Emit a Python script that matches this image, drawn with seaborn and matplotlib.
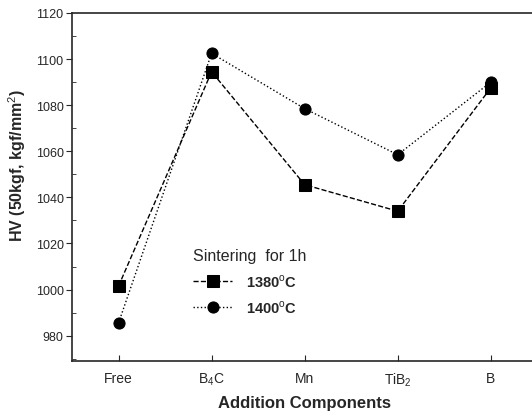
import matplotlib
matplotlib.use("Agg")
import matplotlib.pyplot as plt
import seaborn as sns
import pandas as pd
from matplotlib.ticker import MultipleLocator

categories = ["Free", "B$_4$C", "Mn", "TiB$_2$", "B"]
hv_1380 = [1001.5, 1094.5, 1045.5, 1034.0, 1087.5]
hv_1400 = [985.5, 1102.5, 1078.5, 1058.5, 1090.0]
series_labels = ["1380$^{\\rm o}$C", "1400$^{\\rm o}$C"]

df = pd.DataFrame({
    "cat": categories * 2,
    "hv": hv_1380 + hv_1400,
    "temp": [series_labels[0]] * 5 + [series_labels[1]] * 5,
})

sns.set_style("ticks")
plt.rcParams["font.family"] = ["Liberation Sans", "DejaVu Sans"]
plt.rcParams["mathtext.fontset"] = "custom"
plt.rcParams["mathtext.rm"] = "Liberation Sans"
plt.rcParams["mathtext.bf"] = "Liberation Sans:bold"

fig = plt.figure(figsize=(5.32, 4.14), dpi=100)
ax_w = 1 - 72 / 532 + 0.01
ax = fig.add_axes([72 / 532, 1 - 362 / 414, ax_w, (362 - 14) / 414])

sns.pointplot(data=df, x="cat", y="hv", hue="temp", order=categories,
              hue_order=series_labels, palette=["black", "black"],
              markers=["s", "o"], linestyles=["--", ":"], ax=ax,
              markersize=8, linewidth=1.0, dodge=False)

ax.set_xlim(-0.5, 4.5)
ax.set_ylim(969, 1120)
ax.set_yticks(range(980, 1121, 20))
ax.yaxis.set_minor_locator(MultipleLocator(10))
ax.tick_params(axis="y", which="major", direction="out", length=4, labelsize=9, pad=2)
ax.tick_params(axis="y", which="minor", direction="in", length=3)
ax.tick_params(axis="x", which="major", direction="in", length=4, labelsize=10, pad=7)
ax.spines["right"].set_visible(False)
for s in ["left", "top", "bottom"]:
    ax.spines[s].set_linewidth(1.2)

ax.set_xlabel("Addition Components", fontsize=12, fontweight="bold", labelpad=5)
ax.set_ylabel("HV (50kgf, kgf/mm$^2$)", fontsize=11.5, fontweight="bold")
ax.yaxis.set_label_coords((28 - 72) / (ax_w * 532), (362 - 166) / 348)

leg = ax.legend(title="Sintering  for 1h", loc="upper left",
                bbox_to_anchor=(193 / 532, 1 - 249 / 414),
                bbox_transform=fig.transFigure, borderpad=0, borderaxespad=0,
                frameon=False, fontsize=10.5, title_fontsize=11.5,
                handlelength=2.7, handletextpad=0.9, labelspacing=0.65,
                alignment="left")
for t in leg.get_texts():
    t.set_fontweight("bold")

fig.savefig("out.png", dpi=100)
